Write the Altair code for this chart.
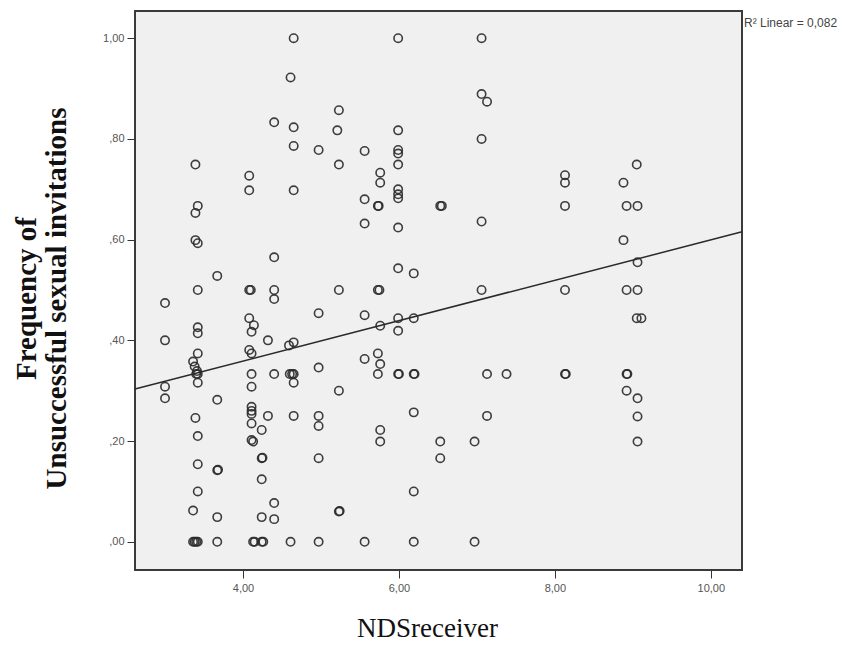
import altair as alt
import pandas as pd

# NDSreceiver values (x) and frequency of unsuccessful sexual invitations (y)
nds = [
    4.65, 4.61, 5.23, 4.40, 4.65, 5.21, 4.65, 4.97, 5.23, 3.39,
    4.08, 4.08, 4.65, 3.42, 3.39, 3.39, 3.42, 4.40, 3.67, 3.42,
    4.08, 4.10, 4.40, 4.40, 5.23, 3.00, 5.99, 7.06, 7.06, 7.13,
    5.99, 7.06, 5.56, 5.99, 5.99, 5.99, 5.76, 5.76, 5.99, 5.99,
    5.99, 5.56, 5.73, 5.74, 6.53, 6.55, 5.56, 5.99, 7.06, 5.99,
    6.19, 5.73, 5.75, 7.06, 8.13, 8.13, 9.05, 8.88, 8.13, 8.92,
    9.06, 8.88, 9.06, 8.13, 8.92, 9.06,
    4.97, 4.08, 4.14, 4.11, 3.42, 3.42, 3.00, 4.32, 4.59, 4.65,
    4.08, 4.11, 3.42, 3.36, 3.38, 3.41, 3.40, 3.42, 3.42, 4.11,
    4.40, 4.60, 4.63, 4.65, 4.65, 4.97, 5.23, 3.00, 3.00, 4.11,
    3.67, 3.39, 4.11, 4.11, 4.11, 4.32, 4.65, 4.97, 4.97, 4.11,
    4.24, 3.42, 4.11, 4.13, 4.24, 4.25, 4.97, 3.42, 3.67, 3.68,
    4.24, 3.42, 4.40, 3.36, 5.23, 5.24, 3.67, 4.24, 4.40, 3.36,
    3.38, 3.40, 3.42, 3.67, 4.13, 4.15, 4.24, 4.26, 4.61, 4.97,
    5.56, 5.99, 6.19, 5.76, 5.99, 5.73, 5.56, 5.76, 5.73, 5.99,
    6.00, 6.19, 6.20, 7.13, 7.38, 6.19, 7.13, 5.76, 5.76, 6.53,
    6.97, 6.53, 6.19, 5.56, 6.19, 6.97,
    9.05, 9.11, 8.13, 8.14, 8.92, 8.93, 8.92, 9.06, 9.06, 9.06,
]
freq = [
    1.000, 0.922, 0.857, 0.833, 0.823, 0.817, 0.786, 0.778, 0.749, 0.749,
    0.727, 0.698, 0.698, 0.667, 0.653, 0.599, 0.593, 0.565, 0.528, 0.500,
    0.500, 0.500, 0.500, 0.482, 0.500, 0.474, 1.000, 1.000, 0.889, 0.874,
    0.817, 0.800, 0.776, 0.778, 0.771, 0.749, 0.733, 0.713, 0.700, 0.690,
    0.682, 0.680, 0.667, 0.667, 0.667, 0.667, 0.632, 0.624, 0.636, 0.543,
    0.533, 0.500, 0.500, 0.500, 0.728, 0.713, 0.749, 0.713, 0.667, 0.667,
    0.667, 0.599, 0.555, 0.500, 0.500, 0.500,
    0.454, 0.444, 0.430, 0.417, 0.426, 0.414, 0.400, 0.400, 0.390, 0.396,
    0.381, 0.374, 0.374, 0.358, 0.348, 0.339, 0.333, 0.333, 0.316, 0.333,
    0.333, 0.333, 0.333, 0.333, 0.316, 0.346, 0.300, 0.308, 0.285, 0.308,
    0.282, 0.246, 0.268, 0.260, 0.254, 0.250, 0.250, 0.250, 0.230, 0.235,
    0.222, 0.210, 0.202, 0.199, 0.166, 0.167, 0.166, 0.154, 0.142, 0.143,
    0.124, 0.100, 0.077, 0.062, 0.060, 0.061, 0.049, 0.049, 0.045, 0.000,
    0.000, 0.000, 0.000, 0.000, 0.000, 0.000, 0.000, 0.000, 0.000, 0.000,
    0.450, 0.444, 0.444, 0.429, 0.419, 0.374, 0.363, 0.353, 0.333, 0.333,
    0.333, 0.333, 0.333, 0.333, 0.333, 0.257, 0.250, 0.222, 0.199, 0.199,
    0.199, 0.166, 0.100, 0.000, 0.000, 0.000,
    0.444, 0.444, 0.333, 0.333, 0.333, 0.333, 0.300, 0.285, 0.249, 0.199,
]

x_ticks = [4, 6, 8, 10]
y_ticks = [0.0, 0.2, 0.4, 0.6, 0.8, 1.0]
x_domain = [2.615, 10.4]
y_domain = [-0.056, 1.054]
r2_label = "R\u00b2 Linear = 0,082"

df = pd.DataFrame({"NDSreceiver": nds, "freq": freq})

x_enc = alt.X(
    "NDSreceiver:Q",
    scale=alt.Scale(domain=x_domain, nice=False, zero=False),
    axis=alt.Axis(
        values=x_ticks,
        labelExpr="replace(format(datum.value, '.2f'), '.', ',')",
        title="NDSreceiver",
        titleFont="Liberation Serif",
        titleFontSize=27,
        titleFontWeight="normal",
        titleColor="#111",
        titleY=66,
        titleX=292,
        titleBaseline="alphabetic",
        grid=False,
        domain=False,
        tickSize=8,
        tickColor="#333",
        labelFont="Liberation Sans",
        labelFontSize=11,
        labelColor="#555",
        labelPadding=4,
    ),
)
y_enc = alt.Y(
    "freq:Q",
    scale=alt.Scale(domain=y_domain, nice=False, zero=False),
    axis=alt.Axis(
        values=y_ticks,
        labelExpr="datum.value >= 1 ? '1,00' : replace(format(datum.value, '.2f'), '0.', ',')",
        title=["Frequency of", "Unsuccessful sexual invitations"],
        titleFont="Liberation Serif",
        titleFontSize=29,
        titleFontWeight="bold",
        titleColor="#111",
        titleAngle=-90,
        titleX=-109,
        titleY=287,
        titleAlign="center",
        titleBaseline="middle",
        titleLineHeight=30,
        grid=False,
        domain=False,
        tickSize=8,
        tickColor="#333",
        labelFont="Liberation Sans",
        labelFontSize=11,
        labelColor="#555",
        labelPadding=3,
    ),
)

base = alt.Chart(df)

points = base.mark_point(
    shape="circle", filled=False, size=70, strokeWidth=1.6, color="#2a2a2a", opacity=0.9
).encode(x=x_enc, y=y_enc)

fit = base.transform_regression(
    "NDSreceiver", "freq", extent=x_domain
).mark_line(color="#2a2a2a", strokeWidth=1.5).encode(
    x="NDSreceiver:Q", y="freq:Q"
)

label = alt.Chart(pd.DataFrame({"t": [r2_label]})).mark_text(
    align="left", baseline="middle", font="Liberation Sans", fontSize=12, color="#444"
).encode(text="t:N", x=alt.value(609), y=alt.value(12))

chart = (
    alt.layer(points, fit, label)
    .properties(
        width=607,
        height=559,
        autosize=alt.AutoSizeParams(type="none"),
        padding={"left": 127, "top": 3, "right": 100, "bottom": 74},
        background="white",
    )
    .configure_view(fill="#f0f0f0", stroke="#3a3a3a", strokeWidth=2)
)

chart.save("out.html", embed_options={"renderer": "svg", "actions": False})
